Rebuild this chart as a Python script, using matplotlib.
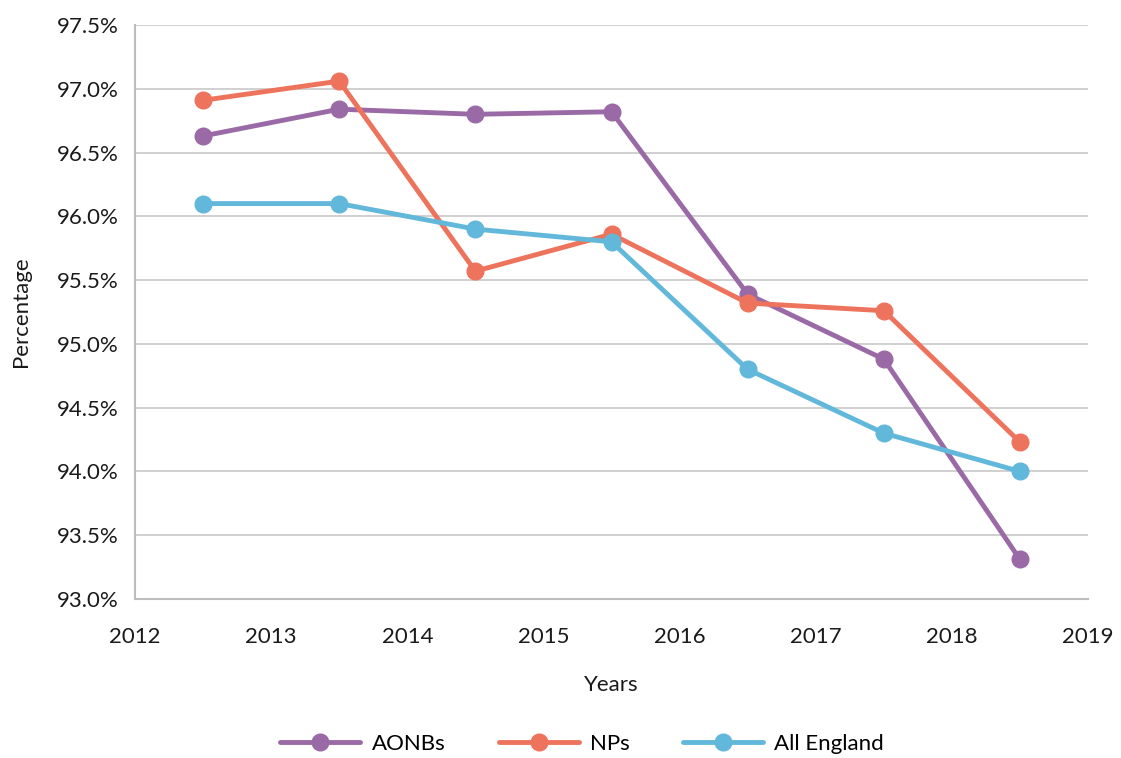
import matplotlib
matplotlib.use('AGG')
import matplotlib.pyplot as plt
import matplotlib.ticker as ticker

# data
years = [2012.5, 2013.5, 2014.5, 2015.5, 2016.5, 2017.5, 2018.5]
aonbs = [96.63, 96.84, 96.80, 96.82, 95.39, 94.88, 93.31]
nps = [96.91, 97.06, 95.57, 95.86, 95.32, 95.26, 94.23]
all_england = [96.10, 96.10, 95.90, 95.80, 94.80, 94.30, 94.00]

series = [
    ("AONBs", aonbs, "#9A6AA6"),
    ("NPs", nps, "#EE735C"),
    ("All England", all_england, "#62B8DA"),
]

plt.rcParams['font.family'] = ['Lato', 'DejaVu Sans']

fig = plt.figure(figsize=(11.21, 7.58), dpi=100)
ax = fig.add_axes([0.1204, 0.2098, 0.8502, 0.7572])

for name, vals, col in series:
    ax.plot(years, vals, color=col, lw=3.5, marker='o', ms=12,
            label=name, solid_capstyle='round')

ax.set_xlim(2012, 2019)
ax.set_ylim(93.0, 97.5)
ax.yaxis.set_major_locator(ticker.MultipleLocator(0.5))
ax.yaxis.set_major_formatter(ticker.FuncFormatter(lambda v, p: "%.1f%%" % v))
ax.xaxis.set_major_locator(ticker.MultipleLocator(1))
ax.xaxis.set_major_formatter(ticker.FuncFormatter(lambda v, p: "%d" % v))

ax.grid(axis='y', color='#C8C8C8', lw=1.2)
ax.set_axisbelow(True)
for s in ['top', 'right']:
    ax.spines[s].set_visible(False)
ax.spines['left'].set_color('#BDBDBD')
ax.spines['bottom'].set_color('#BDBDBD')
ax.spines['left'].set_linewidth(1.5)
ax.spines['bottom'].set_linewidth(1.5)
ax.tick_params(length=0, labelsize=16, colors='#1a1a1a', pad=12)
ax.tick_params(axis='x', pad=20)

ax.set_xlabel("Years", fontsize=16, color='#1a1a1a', labelpad=20)
ax.set_ylabel("Percentage", fontsize=16, color='#1a1a1a', labelpad=18)

ax.legend(loc='upper center', bbox_to_anchor=(0.469, -0.2), ncol=3,
          frameon=False, fontsize=16, handlelength=3.6, columnspacing=2.4,
          handletextpad=0.5)

plt.savefig("out.png", dpi=100)
